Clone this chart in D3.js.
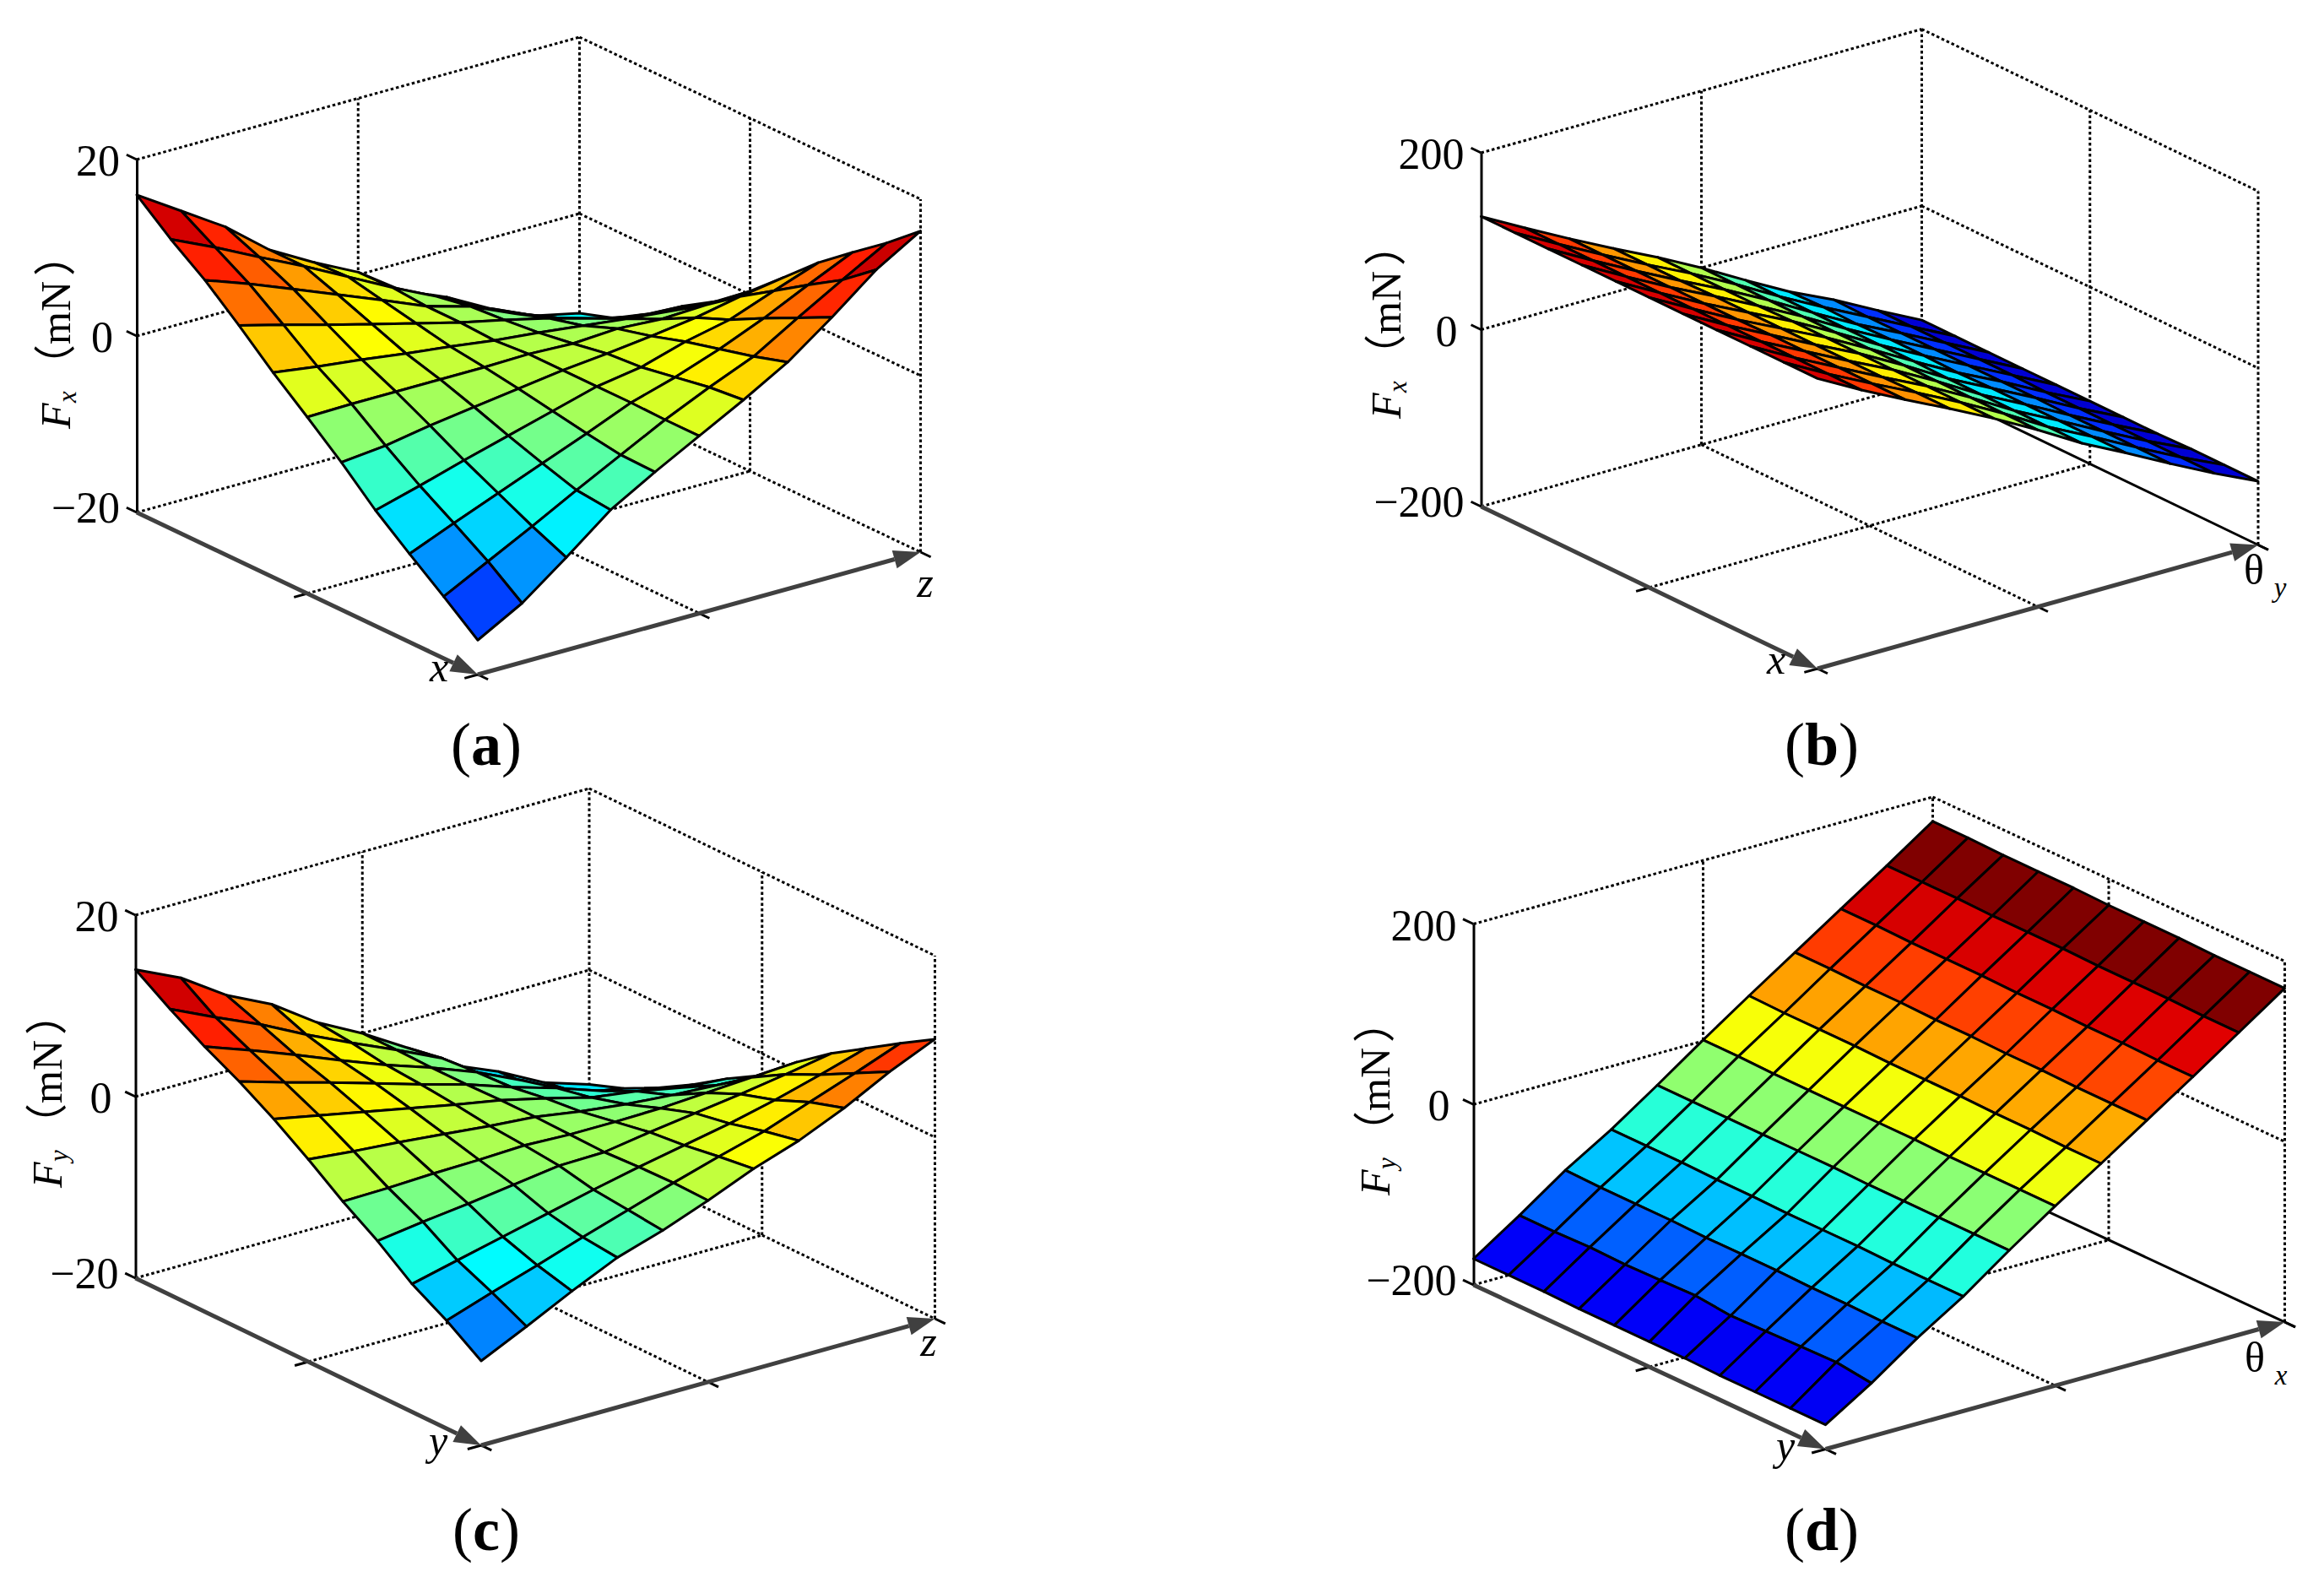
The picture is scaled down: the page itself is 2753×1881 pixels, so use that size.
<!DOCTYPE html>
<html>
<head>
<meta charset="utf-8">
<title>Force surfaces</title>
<style>
  body { margin: 0; background: #fff; }
  text { font-family: "Liberation Serif", serif; fill: #000; }
  .grid { fill: none; stroke: #000; stroke-width: 3; stroke-dasharray: 3.5 3; }
  .mark { stroke: #000; stroke-width: 3; }
  .cell { stroke: #000; stroke-width: 3; stroke-linejoin: round; }
  .arrow { stroke: #404040; stroke-width: 5; fill: none; }
  .head { fill: #404040; stroke: none; }
</style>
</head>
<body>
<script src="https://d3js.org/d3.v7.min.js"></script>
<script>
// grid index along both ground axes
var steps = d3.range(11);

// Fx over (x, z), mN
var fxOverXZ = [
  [16.0, 12.8, 9.6, 5.6, 2.8, 0.3, -3.2, -5.3, -8.0, -10.2, -11.3],
  [12.8, 10.5, 8.0, 5.6, 3.0, 0.4, -2.0, -4.7, -6.8, -9.6, -10.0],
  [10.0, 8.2, 6.2, 4.2, 2.2, 0.1, -1.3, -3.5, -5.4, -7.1, -7.7],
  [6.7, 5.4, 4.0, 2.7, 1.4, 0.1, -1.0, -2.2, -3.6, -4.8, -5.0],
  [3.2, 2.5, 1.9, 1.2, 0.6, -0.1, -0.6, -1.2, -1.8, -2.3, -2.6],
  [0.0, 0.1, 0.1, 0.1, 0.1, 0.2, 0.0, 0.3, 0.0, 0.2, 0.4],
  [-3.3, -2.8, -1.9, -1.2, -0.5, 0.2, 0.7, 1.3, 2.0, 3.0, 3.8],
  [-6.9, -5.5, -4.0, -2.6, -1.2, 0.2, 1.0, 2.5, 3.6, 5.5, 7.3],
  [-10.0, -7.9, -5.9, -3.9, -1.9, 0.2, 1.7, 3.5, 5.6, 8.0, 10.3],
  [-13.0, -10.4, -7.8, -5.1, -2.5, 0.1, 2.4, 4.5, 7.5, 10.4, 13.2],
  [-16.1, -13.3, -9.5, -5.5, -2.6, 0.1, 2.8, 5.7, 9.4, 13.4, 16.4]
];

// Fx over (x, theta y), mN
var fxOverXTheta = [
  [128, 101, 75, 50, 26, 0, -28, -55, -78, -104, -129],
  [128, 101, 75, 50, 26, 0, -28, -54, -79, -104, -129],
  [128, 101, 75, 50, 26, 0, -28, -55, -79, -104, -129],
  [128, 101, 75, 51, 26, 0, -28, -54, -79, -104, -129],
  [128, 101, 75, 51, 27, 0, -28, -54, -79, -104, -129],
  [128, 101, 75, 51, 27, 0, -28, -55, -79, -105, -129],
  [128, 101, 76, 51, 27, 0, -29, -54, -79, -105, -129],
  [128, 101, 76, 51, 27, 0, -29, -54, -80, -105, -129],
  [128, 101, 76, 51, 27, 0, -29, -54, -80, -105, -128],
  [128, 101, 76, 52, 27, 0, -29, -54, -80, -105, -128],
  [128, 101, 76, 52, 27, 0, -29, -54, -80, -105, -128]
];

// Fy over (y, z), mN
var fyOverYZ = [
  [14.0, 11.7, 8.4, 6.0, 2.6, 0.0, -3.0, -6.3, -8.4, -11.0, -12.6],
  [11.5, 9.2, 7.0, 4.5, 2.2, 0.0, -2.3, -5.7, -8.2, -10.3, -11.2],
  [9.2, 7.4, 5.5, 3.5, 1.6, -0.1, -2.0, -4.3, -7.0, -8.8, -9.3],
  [7.2, 5.7, 4.3, 2.8, 1.3, -0.1, -1.8, -3.3, -5.0, -6.5, -7.1],
  [4.9, 3.9, 2.9, 1.9, 0.9, 0.0, -1.2, -2.5, -3.2, -4.2, -4.6],
  [2.3, 1.8, 1.4, 0.9, 0.4, 0.0, -0.8, -1.4, -1.8, -2.1, -2.4],
  [-0.5, -0.4, -0.2, -0.1, 0.1, -0.1, -0.1, 0.0, 0.3, 0.6, 0.9],
  [-3.0, -2.3, -1.7, -1.0, -0.3, -0.2, 0.6, 1.3, 2.0, 2.8, 3.7],
  [-5.9, -4.7, -3.5, -2.3, -1.1, 0.0, 1.0, 2.0, 3.2, 4.6, 6.1],
  [-8.1, -6.4, -4.8, -3.1, -1.5, 0.1, 1.6, 3.0, 4.8, 6.6, 8.5],
  [-10.7, -8.3, -5.8, -3.5, -1.9, 0.0, 2.1, 3.8, 6.0, 8.6, 10.8]
];

// Fy over (y, theta x), mN
var fyOverYTheta = [
  [-171, -137, -101, -70, -35, 1, 36, 70, 104, 138, 173],
  [-171, -137, -102, -70, -35, 1, 35, 70, 104, 138, 173],
  [-171, -136, -102, -70, -35, 0, 35, 69, 103, 138, 172],
  [-172, -137, -102, -71, -35, 0, 35, 69, 103, 137, 172],
  [-172, -136, -103, -71, -35, 0, 34, 68, 103, 137, 172],
  [-172, -135, -103, -72, -35, 0, 34, 68, 102, 137, 171],
  [-172, -139, -103, -72, -36, 0, 34, 67, 102, 136, 171],
  [-173, -138, -104, -72, -36, -1, 33, 67, 101, 136, 171],
  [-173, -137, -104, -73, -36, -1, 33, 66, 101, 136, 170],
  [-173, -136, -105, -73, -36, -1, 32, 66, 100, 135, 170],
  [-173, -141, -105, -73, -36, -1, 32, 66, 100, 135, 170]
];

var ticksSmall = [-20, 0, 20];
var ticksLarge = [-200, 0, 200];

// jet colour map
var jetStops = [0, 0.125, 0.375, 0.625, 0.875, 1];
var jetColors = ["#000080", "#0000ff", "#00ffff", "#ffff00", "#ff0000", "#800000"];

var panels = [
  {caption: "a", values: fxOverXZ, ticks: ticksSmall, clim: [-20, 16], backFloor: -6.5, force: "x",
   left: [162, 607], front: [566, 799], right: [1090.5, 654], top: 189,
   label: [83, 508], axisA: ["x", 520, 807], axisB: ["z", null, 1096, 707], capX: 576, capY: 906},
  {caption: "b", values: fxOverXTheta, ticks: ticksLarge, clim: [-139, 138], force: "x", solidEdge: true,
   left: [1754.5, 600], front: [2153, 792], right: [2675, 645.5], top: 181,
   label: [1659, 496], axisA: ["x", 2104, 798], axisB: ["θ", "y", 2670, 692], capX: 2158, capY: 906},
  {caption: "c", values: fyOverYZ, ticks: ticksSmall, clim: [-16, 14], backFloor: -5.5, force: "y",
   left: [160.5, 1514], front: [570, 1712], right: [1107.5, 1562], top: 1084,
   label: [73, 1407], axisA: ["y", 519, 1723], axisB: ["z", null, 1100, 1606], capX: 576, capY: 1836},
  {caption: "d", values: fyOverYTheta, ticks: ticksLarge, clim: [-195, 150], force: "y", solidEdge: true,
   left: [1745.5, 1522], front: [2162.5, 1716.5], right: [2706.5, 1566], top: 1094.5,
   label: [1646, 1416], axisA: ["y", 2115, 1729], axisB: ["θ", "x", 2671, 1625], capX: 2158, capY: 1836}
];

var svg = d3.select("body").append("svg")
    .attr("width", 2753)
    .attr("height", 1881);

var pathOf = d3.line();
var closedOf = d3.line().curve(d3.curveLinearClosed);

function drawArrow(g, from, to) {
  var dx = to[0] - from[0], dy = to[1] - from[1];
  var len = Math.sqrt(dx * dx + dy * dy);
  var ux = dx / len, uy = dy / len;
  var neck = [to[0] - ux * 32, to[1] - uy * 32];
  g.append("path").attr("class", "arrow").attr("d", pathOf([from, neck]));
  g.append("path").attr("class", "head").attr("d", closedOf([
    to,
    [neck[0] - uy * 11, neck[1] + ux * 11],
    [neck[0] + uy * 11, neck[1] - ux * 11]
  ]));
}

panels.forEach(function(p) {
  var g = svg.append("g");
  var zMin = p.ticks[0], zMax = p.ticks[2];

  // ground scales share the index 0..10 along both axes
  var iX = d3.scaleLinear().domain([0, 10]).range([p.left[0], p.front[0]]);
  var iY = d3.scaleLinear().domain([0, 10]).range([p.left[1], p.front[1]]);
  var jX = d3.scaleLinear().domain([0, 10]).range([0, p.right[0] - p.front[0]]);
  var jY = d3.scaleLinear().domain([0, 10]).range([0, p.right[1] - p.front[1]]);
  var zY = d3.scaleLinear().domain([zMin, zMax]).range([p.left[1], p.top]);

  function project(i, j, v) {
    return [iX(i) + jX(j), iY(i) + jY(j) + zY(v) - p.left[1]];
  }

  var color = d3.scaleLinear()
      .domain(jetStops.map(function(s) { return p.clim[0] + s * (p.clim[1] - p.clim[0]); }))
      .range(jetColors)
      .clamp(true);

  // dotted walls and floor
  var grid = g.append("g");
  function dotted(points) {
    grid.append("path").attr("class", "grid").attr("d", pathOf(points));
  }
  p.ticks.forEach(function(t) {
    dotted([project(0, 0, t), project(0, 10, t)]);
    if (!(t === zMin && p.solidEdge)) {
      dotted([project(0, 10, t), project(10, 10, t)]);
    }
  });
  dotted([project(0, 5, zMin), project(0, 5, zMax)]);
  dotted([project(0, 10, zMin), project(0, 10, zMax)]);
  dotted([project(5, 10, zMin), project(5, 10, zMax)]);
  dotted([project(10, 10, zMin), project(10, 10, zMax)]);
  dotted([project(5, 0, zMin), project(5, 10, zMin)]);
  dotted([project(0, 5, zMin), project(10, 5, zMin)]);

  if (p.solidEdge) {
    g.append("path").attr("class", "mark")
        .attr("d", pathOf([project(0, 10, zMin), project(10.3, 10, zMin)]));
  }

  // vertical axis with its labels
  var axisG = g.append("g")
      .attr("transform", "translate(" + p.left[0] + ",0)")
      .call(d3.axisLeft(zY).tickValues(p.ticks).tickSize(0).tickPadding(20)
        .tickFormat(function(d) { return d < 0 ? "\u2212" + (-d) : d; }));
  axisG.select(".domain").attr("stroke", "#000").attr("stroke-width", 3);
  axisG.selectAll("text")
      .style("font-family", "Liberation Serif")
      .style("font-size", "52px")
      .attr("dx", function(d) { return d === 0 ? -8 : 0; })
      .attr("y", function(d) { return d === zMin ? -5 : 2; });

  // small ticks
  p.ticks.forEach(function(t) {
    g.append("path").attr("class", "mark")
        .attr("d", pathOf([project(0, 0, t), project(-0.3, 0, t)]));
  });
  var tickLines = [
    [[5, 0], [5, -0.3]],
    [[10, 5], [10.3, 5]],
    [[10, 10], [10.3, 10]],
    [[10, 0], [10.3, 0]],
    [[10, 0], [10, -0.3]]
  ];
  tickLines.forEach(function(t) {
    g.append("path").attr("class", "mark")
        .attr("d", pathOf([project(t[0][0], t[0][1], zMin), project(t[1][0], t[1][1], zMin)]));
  });

  // arrows along the two ground axes
  drawArrow(g, project(0, 0, zMin), project(10, 0, zMin));
  drawArrow(g, project(10, 0, zMin), project(10, 10, zMin));

  // surface cells, back corner first
  var cells = [];
  steps.slice(0, 10).forEach(function(i) {
    steps.slice(0, 10).reverse().forEach(function(j) {
      cells.push({i: i, j: j});
    });
  });
  function corners(c) {
    return [[c.i, c.j], [c.i + 1, c.j], [c.i + 1, c.j + 1], [c.i, c.j + 1]];
  }
  g.append("g").selectAll("path")
    .data(cells)
    .join("path")
      .attr("class", "cell")
      .attr("d", function(c) {
        return closedOf(corners(c).map(function(k) {
          return project(k[0], k[1], p.values[k[0]][k[1]]);
        }));
      })
      .attr("fill", function(c) {
        var v = d3.mean(corners(c), function(k) { return p.values[k[0]][k[1]]; });
        // the far ridge in the saddle plots stays cyan, it never reaches blue
        if (p.backFloor !== undefined && c.i < 5) v = Math.max(v, p.backFloor);
        return color(v);
      });

  // force label, rotated, each piece placed along the text line
  var label = g.append("text")
      .attr("transform", "translate(" + p.label[0] + "," + p.label[1] + ") rotate(-90)")
      .style("font-size", "50px");
  label.append("tspan").attr("x", 0).style("font-style", "italic").text("F");
  label.append("tspan").attr("x", 31).attr("dy", 7)
      .style("font-style", "italic").style("font-size", "31px").text(p.force);
  label.append("tspan").attr("x", 50).attr("dy", -7)
      .style("font-family", "Noto Sans CJK SC").text("（");
  label.append("tspan").attr("x", 100).text("mN");
  label.append("tspan").attr("x", 181).style("font-family", "Noto Sans CJK SC").text("）");

  // ground axis letters
  g.append("text")
      .attr("x", p.axisA[1]).attr("y", p.axisA[2])
      .attr("text-anchor", "middle")
      .style("font-size", "50px").style("font-style", "italic")
      .text(p.axisA[0]);
  var b = g.append("text")
      .attr("x", p.axisB[2]).attr("y", p.axisB[3])
      .attr("text-anchor", "middle")
      .style("font-size", "50px");
  if (p.axisB[1]) {
    b.text(p.axisB[0]);
    g.append("text")
        .attr("x", p.axisB[2] + 31).attr("y", p.axisB[3] + 15)
        .attr("text-anchor", "middle")
        .style("font-size", "33px").style("font-style", "italic")
        .text(p.axisB[1]);
  } else {
    b.style("font-style", "italic").text(p.axisB[0]);
  }

  // panel caption
  var cap = g.append("text")
      .attr("x", p.capX).attr("y", p.capY)
      .attr("text-anchor", "middle")
      .style("font-size", "72px");
  cap.append("tspan").text("(");
  cap.append("tspan").style("font-weight", "bold").text(p.caption);
  cap.append("tspan").text(")");
});
</script>
</body>
</html>
